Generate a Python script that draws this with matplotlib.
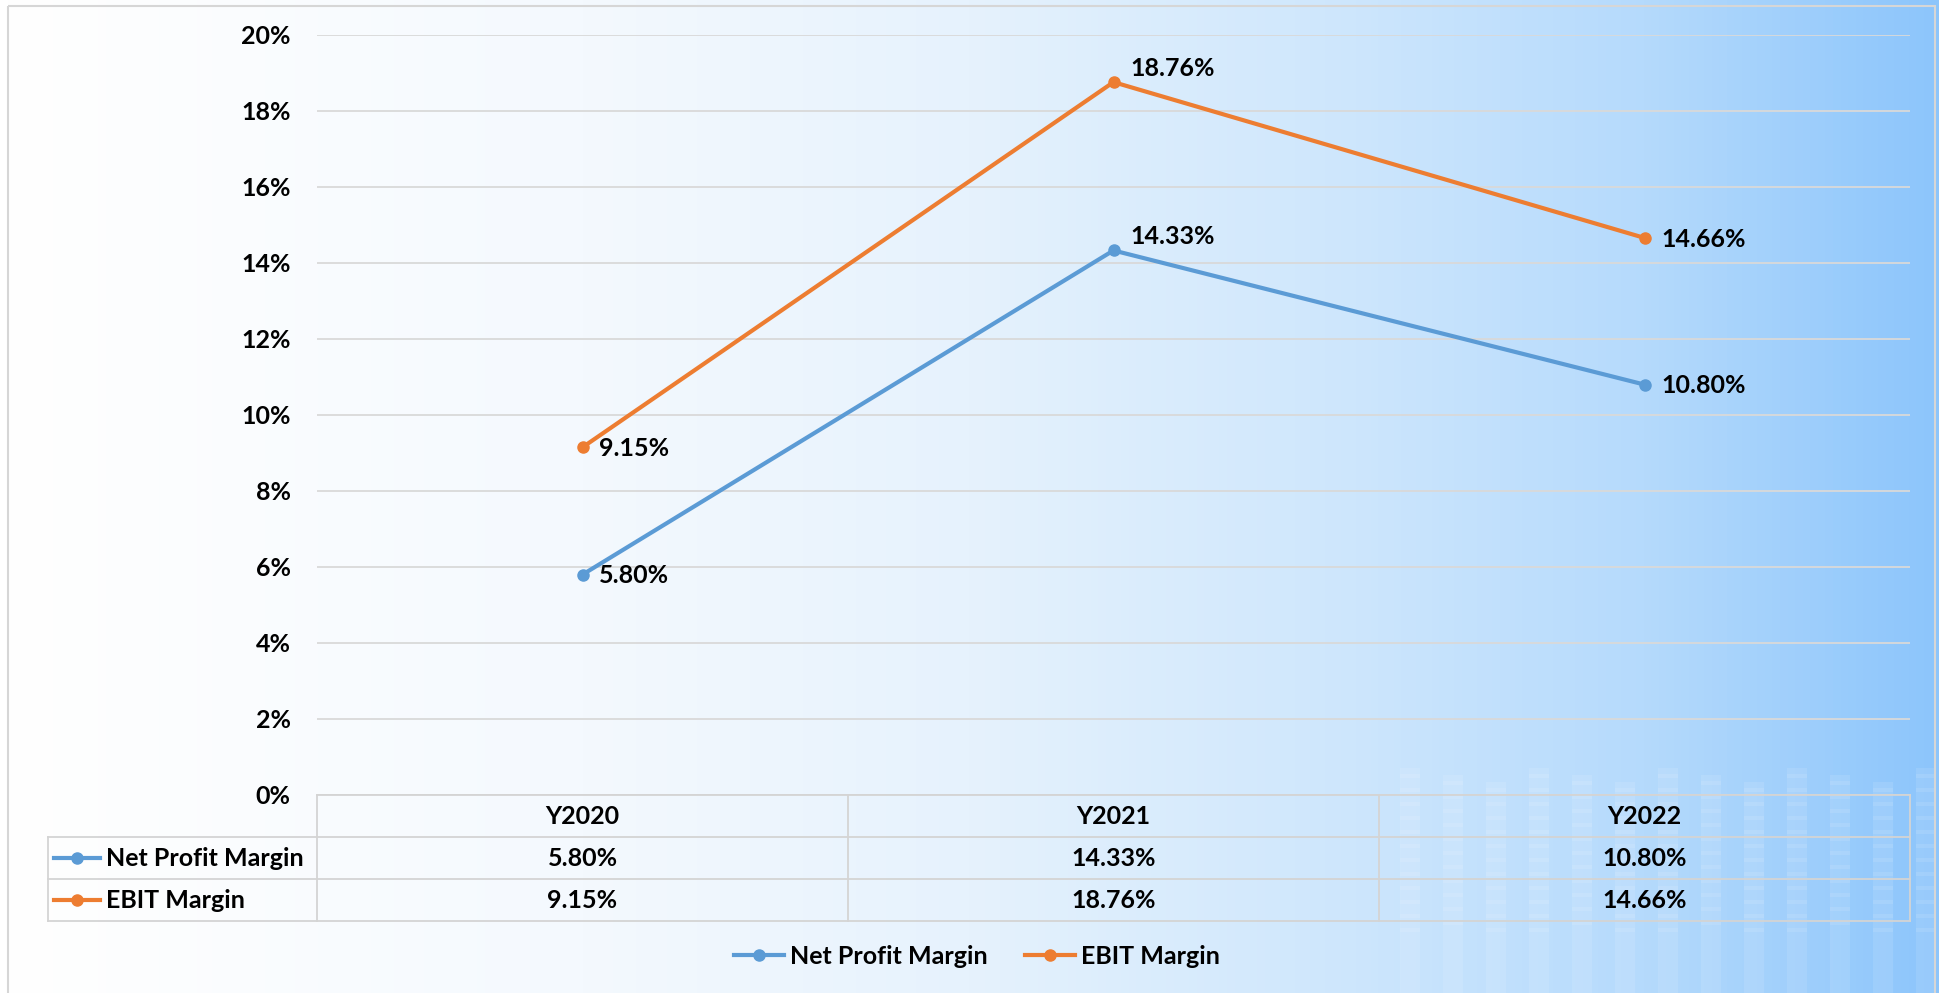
import numpy as np
import matplotlib
matplotlib.use('Agg')
import matplotlib.pyplot as plt
from matplotlib.colors import LinearSegmentedColormap
from matplotlib.lines import Line2D
from matplotlib.patches import Rectangle

plt.rcParams['font.family'] = ['Lato', 'DejaVu Sans']
plt.rcParams['font.weight'] = 'bold'

# data
years = ['Y2020', 'Y2021', 'Y2022']
net_profit_margin = [5.80, 14.33, 10.80]
ebit_margin = [9.15, 18.76, 14.66]
series_names = ['Net Profit Margin', 'EBIT Margin']
series_colors = ['#5B9BD5', '#ED7D31']
yticks = [0, 2, 4, 6, 8, 10, 12, 14, 16, 18, 20]

FS = 18
W, H = 1939, 993
fig = plt.figure(figsize=(W / 100, H / 100), dpi=100)

# background gradient + border
bg = fig.add_axes([0, 0, 1, 1], zorder=-10)
bg.set_axis_off()
cmap = LinearSegmentedColormap.from_list('bg', [
    (0.0, '#FFFFFF'), (0.3, '#F4F9FE'), (0.5, '#E6F2FD'),
    (0.7, '#CDE6FC'), (0.85, '#B5DAFC'), (1.0, '#8CC5FB')])
grad = np.linspace(0, 1, 512).reshape(1, -1)
bg.imshow(grad, aspect='auto', cmap=cmap, extent=[0, W, 0, H])
bg.set_xlim(0, W)
bg.set_ylim(H, 0)
# faint bar texture in the lower right corner
for i, x0 in enumerate(range(1400, 1940, 43)):
    top = 768 + (i % 3) * 7
    bg.add_patch(Rectangle((x0, top), 20, H - top, color='white', alpha=0.10, lw=0))
    for yy in range(top + 6, 930, 14):
        bg.add_patch(Rectangle((x0, yy), 20, 4, color='white', alpha=0.10, lw=0))
bg.add_patch(Rectangle((8, 6), 1927, 1000, fill=False, ec='#D6D6D6', lw=1.5))

# main plot area
left, right, top, bottom = 317, 1910, 35, 795
ax = fig.add_axes([left / W, 1 - bottom / H, (right - left) / W, (bottom - top) / H])
ax.set_facecolor('none')
x = np.arange(len(years))
ax.set_xlim(-0.5, len(years) - 0.5)
ax.set_ylim(0, 20)
ax.set_yticks(yticks)
ax.set_yticklabels([f'{t}%' for t in yticks], fontsize=FS, fontweight='bold')
ax.tick_params(axis='y', length=0, pad=19)
ax.set_xticks([])
ax.grid(axis='y', color='#D9D9D9', lw=1.3)
ax.set_axisbelow(True)
for s in ax.spines.values():
    s.set_visible(False)

series = [net_profit_margin, ebit_margin]
for vals, name, col in zip(series, series_names, series_colors):
    ax.plot(x, vals, color=col, lw=3.0, marker='o', ms=8, label=name,
            solid_capstyle='round', clip_on=False, zorder=3)
    for xi, v in zip(x, vals):
        dy = 10 if xi == 1 else -1
        ax.annotate(f'{v:.2f}%', (xi, v), xytext=(12, dy), textcoords='offset points',
                    ha='left', va='center', fontsize=FS, fontweight='bold')

# data table below the plot
px = (right - left) / len(years)          # pixels per category
ph = bottom - top
row_h = [42 / ph, 42 / ph, 42 / ph]
lab_left = -0.5 - (left - 48) / px
grid_c = '#D4D4D4'
ylines = [0, -row_h[0], -row_h[0] - row_h[1], -sum(row_h)]
tx = ax.get_xaxis_transform()
ax.plot([-0.5, len(years) - 0.5], [ylines[0]] * 2, transform=tx, color=grid_c, lw=1.3, clip_on=False)
for yl in ylines[1:]:
    ax.plot([lab_left, len(years) - 0.5], [yl] * 2, transform=tx, color=grid_c, lw=1.3, clip_on=False)
for xb in np.arange(len(years) + 1) - 0.5:
    ax.plot([xb, xb], [ylines[0], ylines[-1]], transform=tx, color=grid_c, lw=1.3, clip_on=False)
ax.plot([lab_left, lab_left], [ylines[1], ylines[-1]], transform=tx, color=grid_c, lw=1.3, clip_on=False)

for xi, yr in zip(x, years):
    ax.text(xi, (ylines[0] + ylines[1]) / 2, yr, transform=tx, ha='center', va='center',
            fontsize=FS, fontweight='bold')
for r, (vals, name, col) in enumerate(zip(series, series_names, series_colors)):
    yc = (ylines[r + 1] + ylines[r + 2]) / 2
    for xi, v in zip(x, vals):
        ax.text(xi, yc, f'{v:.2f}%', transform=tx, ha='center', va='center',
                fontsize=FS, fontweight='bold')
    l0 = lab_left + 6 / px
    ax.plot([l0, l0 + 46 / px], [yc, yc], transform=tx, color=col, lw=3.0, clip_on=False)
    ax.plot([l0 + 23 / px], [yc], transform=tx, color=col, marker='o', ms=8, clip_on=False)
    ax.text(l0 + 52 / px, yc, name, transform=tx, ha='left', va='center',
            fontsize=FS, fontweight='bold')

# legend at bottom
handles = [Line2D([0], [0], color=c, lw=3.0, marker='o', ms=8) for c in series_colors]
fig.legend(handles, series_names, loc='center', bbox_to_anchor=(977 / W, 1 - 956 / H),
           ncol=2, frameon=False, handlelength=2.0, handletextpad=0.25,
           columnspacing=1.5, prop={'weight': 'bold', 'size': FS})

fig.savefig('out.png', dpi=100)
